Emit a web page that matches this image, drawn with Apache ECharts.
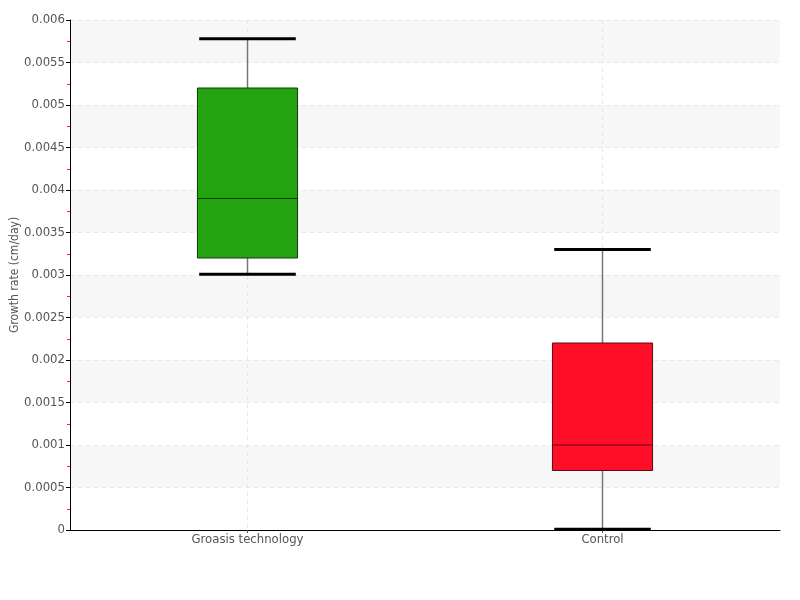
<!DOCTYPE html>
<html><head><meta charset="utf-8">
<script src="https://cdn.jsdelivr.net/npm/echarts@6/dist/echarts.min.js"></script>
<style>html,body{margin:0;padding:0;background:#fff}#c{width:800px;height:600px}</style>
</head><body><div id="c"></div>
<script>
const categories = ['Groasis technology', 'Control'];
const mins    = [0.00301, 0.00001];
const q1s     = [0.0032, 0.0007];
const medians = [0.0039, 0.001];
const q3s     = [0.0052, 0.0022];
const maxs    = [0.00578, 0.0033];
const fills   = ['#22a30f', '#ff0f27'];
const edges   = ['#0f3a08', '#5a0a10'];

const FONT = '"DejaVu Sans Condensed", "Liberation Sans Narrow", sans-serif';
const chart = echarts.init(document.getElementById('c'));
const data = categories.map((c, i) => [i, mins[i], q1s[i], medians[i], q3s[i], maxs[i]]);

chart.setOption({
  animation: false,
  grid: { left: 70, right: 20, top: 20, bottom: 70, containLabel: false, outerBoundsMode: 'none' },
  xAxis: {
    type: 'category', data: categories, boundaryGap: true,
    axisLine: { lineStyle: { color: '#000', width: 1 } },
    axisTick: { show: true, alignWithLabel: true, length: 3, lineStyle: { color: '#555' } },
    axisLabel: { color: '#555', fontFamily: FONT, fontSize: 13, margin: 3 },
    splitLine: { show: true, alignWithLabel: true, lineStyle: { color: '#e8e8e8', type: [4, 4] } }
  },
  yAxis: {
    type: 'value', min: 0, max: 0.006, interval: 0.0005,
    name: 'Growth rate (cm/day)', nameLocation: 'middle', nameGap: 49, nameMoveOverlap: false,
    nameTextStyle: { color: '#555', fontFamily: FONT, fontSize: 12 },
    axisLine: { show: true, lineStyle: { color: '#000' } },
    axisTick: { show: true, length: 4, lineStyle: { color: '#000' } },
    minorTick: { show: true, splitNumber: 2, length: 3, lineStyle: { color: '#ff2020', width: 1 } },
    axisLabel: { color: '#555', fontFamily: FONT, fontSize: 13, margin: 5 },
    splitLine: { show: true, lineStyle: { color: '#e8e8e8', type: [4, 4] } },
    splitArea: { show: true, areaStyle: { color: ['#ffffff', '#f7f7f7'] } }
  },
  series: [{
    type: 'custom',
    data: data,
    encode: { x: 0, y: [1, 2, 3, 4, 5] },
    renderItem: function (params, api) {
      const i = api.value(0);
      const bw = api.size([1, 0])[0] * 0.282;
      const cw = api.size([1, 0])[0] * 0.272;
      const pMin = api.coord([i, api.value(1)]);
      const pQ1 = api.coord([i, api.value(2)]);
      const pMed = api.coord([i, api.value(3)]);
      const pQ3 = api.coord([i, api.value(4)]);
      const pMax = api.coord([i, api.value(5)]);
      const x = pQ1[0];
      return {
        type: 'group',
        children: [
          { type: 'line', shape: { x1: x, y1: pMax[1], x2: x, y2: pQ3[1] }, style: { stroke: '#777', lineWidth: 1.5 } },
          { type: 'line', shape: { x1: x, y1: pQ1[1], x2: x, y2: pMin[1] }, style: { stroke: '#777', lineWidth: 1.5 } },
          { type: 'rect', shape: { x: x - bw / 2, y: pQ3[1], width: bw, height: pQ1[1] - pQ3[1] },
            style: { fill: fills[i], stroke: edges[i], lineWidth: 1 } },
          { type: 'line', shape: { x1: x - bw / 2, y1: pMed[1], x2: x + bw / 2, y2: pMed[1] },
            style: { stroke: edges[i], lineWidth: 1 } },
          { type: 'line', shape: { x1: x - cw / 2, y1: pMax[1], x2: x + cw / 2, y2: pMax[1] }, style: { stroke: '#000', lineWidth: 3 } },
          { type: 'line', shape: { x1: x - cw / 2, y1: pMin[1], x2: x + cw / 2, y2: pMin[1] }, style: { stroke: '#000', lineWidth: 3 } }
        ]
      };
    }
  }]
});
</script>
</body></html>
